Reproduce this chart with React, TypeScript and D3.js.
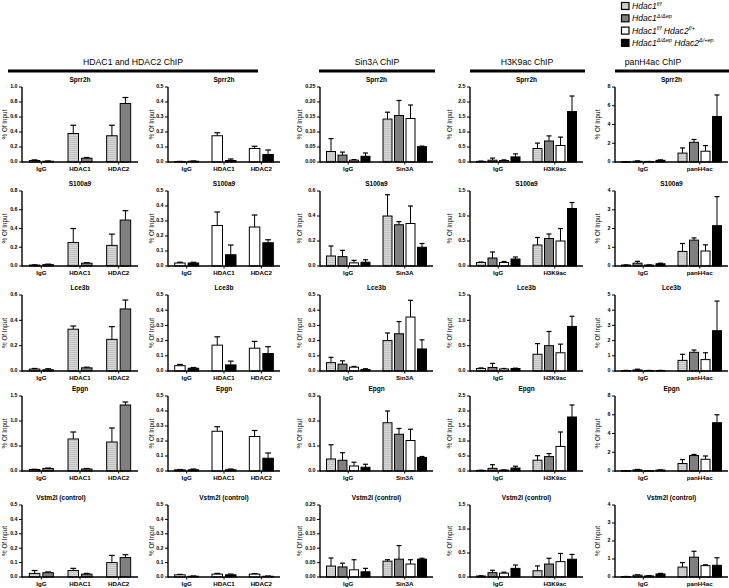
import React from "react";
import * as d3 from "d3";

// ---------- data ----------
const rowTitles = ["Sprr2h", "S100a9", "Lce3b", "Epgn", "Vstm2l (control)"];
const colHeaders = ["HDAC1 and HDAC2 ChIP", "Sin3A ChIP", "H3K9ac ChIP", "panH4ac ChIP"];

const hdacGroups = ["IgG", "HDAC1", "HDAC2"];
const sin3aGroups = ["IgG", "Sin3A"];
const h3k9Groups = ["IgG", "H3K9ac"];
const h4Groups = ["IgG", "panH4ac"];

// axis maxima and tick steps per row
const col1Max = [1.0, 0.8, 0.6, 1.5, 0.5];
const col1Step = [0.2, 0.2, 0.2, 0.5, 0.1];
const col2Max = [0.5, 0.5, 0.5, 0.5, 0.5];
const col2Step = [0.1, 0.1, 0.1, 0.1, 0.1];
const col3Max = [0.25, 0.6, 0.5, 0.3, 0.25];
const col3Step = [0.05, 0.2, 0.1, 0.1, 0.05];
const col4Max = [2.5, 1.5, 1.5, 2.5, 1.5];
const col4Step = [0.5, 0.5, 0.5, 0.5, 0.5];
const col5Max = [8, 4, 5, 8, 4];
const col5Step = [2, 1, 1, 2, 1];

// values: row -> group -> series ; errors likewise
const col1Means = [
  [[0.02, 0.01], [0.38, 0.05], [0.35, 0.78]],
  [[0.01, 0.015], [0.25, 0.03], [0.22, 0.49]],
  [[0.015, 0.01], [0.33, 0.025], [0.25, 0.49]],
  [[0.03, 0.05], [0.64, 0.04], [0.58, 1.32]],
  [[0.025, 0.03], [0.045, 0.02], [0.1, 0.135]],
];
const col1Errs = [
  [[0.008, 0.004], [0.11, 0.01], [0.14, 0.08]],
  [[0.002, 0.005], [0.15, 0.005], [0.12, 0.1]],
  [[0.005, 0.008], [0.025, 0.005], [0.1, 0.07]],
  [[0.005, 0.01], [0.14, 0.01], [0.28, 0.06]],
  [[0.02, 0.005], [0.015, 0.005], [0.05, 0.02]],
];
const col2Means = [
  [[0.003, 0.005], [0.175, 0.01], [0.09, 0.05]],
  [[0.02, 0.02], [0.27, 0.075], [0.26, 0.155]],
  [[0.035, 0.018], [0.17, 0.04], [0.15, 0.115]],
  [[0.008, 0.008], [0.265, 0.008], [0.23, 0.085]],
  [[0.015, 0.005], [0.02, 0.015], [0.02, 0.005]],
];
const col2Errs = [
  [[0.001, 0.002], [0.02, 0.01], [0.015, 0.03]],
  [[0.005, 0.005], [0.09, 0.065], [0.08, 0.02]],
  [[0.008, 0.005], [0.055, 0.025], [0.045, 0.045]],
  [[0.002, 0.005], [0.03, 0.005], [0.04, 0.035]],
  [[0.003, 0.002], [0.005, 0.005], [0.003, 0.002]],
];
const col3Means = [
  [[0.035, 0.023, 0.006, 0.019], [0.143, 0.155, 0.145, 0.051]],
  [[0.08, 0.075, 0.025, 0.03], [0.4, 0.33, 0.34, 0.15]],
  [[0.055, 0.045, 0.025, 0.01], [0.2, 0.245, 0.355, 0.145]],
  [[0.048, 0.043, 0.02, 0.015], [0.193, 0.147, 0.122, 0.054]],
  [[0.038, 0.035, 0.025, 0.018], [0.055, 0.062, 0.045, 0.062]],
];
const col3Errs = [
  [[0.043, 0.01, 0.002, 0.011], [0.023, 0.05, 0.045, 0.002]],
  [[0.08, 0.05, 0.02, 0.02], [0.17, 0.025, 0.14, 0.03]],
  [[0.035, 0.022, 0.005, 0.005], [0.05, 0.08, 0.11, 0.06]],
  [[0.057, 0.03, 0.015, 0.012], [0.047, 0.023, 0.045, 0.004]],
  [[0.028, 0.013, 0.035, 0.012], [0.005, 0.047, 0.015, 0.003]],
];
const col4Means = [
  [[0.02, 0.06, 0.05, 0.17], [0.45, 0.7, 0.55, 1.68]],
  [[0.07, 0.16, 0.07, 0.14], [0.42, 0.55, 0.5, 1.15]],
  [[0.05, 0.07, 0.04, 0.05], [0.33, 0.5, 0.36, 0.88]],
  [[0.02, 0.09, 0.03, 0.1], [0.36, 0.48, 0.82, 1.8]],
  [[0.02, 0.09, 0.08, 0.18], [0.13, 0.27, 0.32, 0.37]],
];
const col4Errs = [
  [[0.01, 0.07, 0.02, 0.1], [0.18, 0.17, 0.28, 0.52]],
  [[0.01, 0.12, 0.02, 0.04], [0.15, 0.09, 0.25, 0.12]],
  [[0.01, 0.08, 0.01, 0.005], [0.21, 0.28, 0.17, 0.2]],
  [[0.005, 0.12, 0.005, 0.06], [0.15, 0.1, 0.48, 0.4]],
  [[0.005, 0.05, 0.02, 0.07], [0.1, 0.12, 0.17, 0.1]],
];
const col5Means = [
  [[0.03, 0.08, 0.05, 0.18], [0.95, 2.1, 1.15, 4.85]],
  [[0.05, 0.15, 0.05, 0.12], [0.78, 1.38, 0.8, 2.15]],
  [[0.03, 0.07, 0.03, 0.03], [0.7, 1.23, 0.75, 2.65]],
  [[0.03, 0.12, 0.03, 0.1], [0.8, 1.65, 1.25, 5.15]],
  [[0.02, 0.1, 0.06, 0.17], [0.55, 1.1, 0.63, 0.65]],
];
const col5Errs = [
  [[0.01, 0.04, 0.01, 0.05], [0.55, 0.3, 0.6, 2.3]],
  [[0.01, 0.1, 0.01, 0.03], [0.42, 0.12, 0.33, 1.55]],
  [[0.01, 0.05, 0.01, 0.01], [0.4, 0.15, 0.45, 1.95]],
  [[0.01, 0.05, 0.01, 0.02], [0.42, 0.12, 0.35, 0.85]],
  [[0.01, 0.02, 0.02, 0.03], [0.25, 0.33, 0.05, 0.42]],
];

// legend labels: [base, superscript] pairs
const legendParts: [string, string][][] = [
  [["Hdac1", "f/f"]],
  [["Hdac1", "Δ/Δep"]],
  [["Hdac1", "f/f"], ["Hdac2", "f/+"]],
  [["Hdac1", "Δ/Δep"], ["Hdac2", "Δ/+ep"]],
];

// ---------- layout ----------
const W = 729;
const H = 588;
const FONT = "'Liberation Sans', Arial, Helvetica, sans-serif";
const rowTop = [87, 191, 295, 396, 505];
const rowBottom = [162, 266, 371, 471, 577];
const colX = [
  [22, 138],
  [168, 280],
  [320, 433],
  [470, 583],
  [615, 728],
];
const yLabelOffset = [-17, -16, -20, -20, -17];
const SERIES_FILL = ["url(#hatch)", "#808080", "#ffffff", "#000000"];

type PanelProps = {
  x0: number;
  x1: number;
  top: number;
  bottom: number;
  max: number;
  step: number;
  groups: string[];
  series: number[];
  means: number[][];
  errs: number[][];
  title: string;
  titleX?: number;
  yLabelDx: number;
};

function decimalsOf(step: number, max: number) {
  if (Number.isInteger(step) && Number.isInteger(max)) return 0;
  const s = String(step);
  const d = s.includes(".") ? s.split(".")[1].length : 0;
  return Math.max(1, d);
}

function Panel(p: PanelProps) {
  const y = d3.scaleLinear().domain([0, p.max]).range([p.bottom, p.top]);
  const x = d3.scaleBand<string>().domain(p.groups).range([p.x0, p.x1]).padding(0);
  const n = p.series.length;
  const barW = n === 2 ? 10.5 : 9;
  const pitch = n === 2 ? 13.5 : 11.5;
  const dec = decimalsOf(p.step, p.max);
  const fmt = d3.format(`.${dec}f`);
  const ticks = d3.range(0, p.max + p.step / 2, p.step);
  const cx = (p.x0 + p.x1) / 2;
  const midY = (p.top + p.bottom) / 2;
  return (
    <g>
      <text
        x={p.titleX ?? cx}
        y={p.top - 5}
        textAnchor="middle"
        fontSize={6.5}
        fontWeight="bold"
        fontFamily={FONT}
      >
        {p.title}
      </text>
      <text
        transform={`translate(${p.x0 + p.yLabelDx},${midY}) rotate(-90)`}
        textAnchor="middle"
        dominantBaseline="middle"
        fontSize={6.3}
        fontFamily={FONT}
      >
        % Of Input
      </text>
      {/* bars */}
      {p.groups.map((g, gi) => {
        const gc = (x(g) as number) + x.bandwidth() / 2;
        return p.series.map((s, si) => {
          const m = p.means[gi][si];
          const e = p.errs[gi][si];
          const bx = gc + (si - (n - 1) / 2) * pitch - barW / 2;
          const by = y(m);
          const ey = y(m + e);
          const capW = barW * 0.55;
          const bcx = bx + barW / 2;
          return (
            <g key={`${g}-${s}`}>
              <line x1={bcx} x2={bcx} y1={by} y2={ey} stroke="#000" strokeWidth={1} />
              <line x1={bcx - capW / 2} x2={bcx + capW / 2} y1={ey} y2={ey} stroke="#000" strokeWidth={1.2} />
              <rect
                x={bx}
                y={by}
                width={barW}
                height={Math.max(0.5, p.bottom - by)}
                fill={SERIES_FILL[s]}
                stroke="#000"
                strokeWidth={1}
              />
            </g>
          );
        });
      })}
      {/* y axis */}
      <line x1={p.x0} x2={p.x0} y1={p.bottom + 0.75} y2={p.top} stroke="#000" strokeWidth={1.4} />
      {ticks.map((t) => (
        <g key={t}>
          <line x1={p.x0 - 3} x2={p.x0} y1={y(t)} y2={y(t)} stroke="#000" strokeWidth={1} />
          <text
            x={p.x0 - 4.5}
            y={y(t)}
            textAnchor="end"
            dominantBaseline="middle"
            fontSize={5.3}
            fontWeight="bold"
            fontFamily={FONT}
          >
            {fmt(t)}
          </text>
        </g>
      ))}
      {/* x axis */}
      <line x1={p.x0} x2={p.x1} y1={p.bottom} y2={p.bottom} stroke="#000" strokeWidth={1.5} />
      {p.groups.map((g) => {
        const gc = (x(g) as number) + x.bandwidth() / 2;
        return (
          <g key={g}>
            <line x1={gc} x2={gc} y1={p.bottom} y2={p.bottom + 2.5} stroke="#000" strokeWidth={1} />
            <text
              x={gc}
              y={p.bottom + 9}
              textAnchor="middle"
              fontSize={6.2}
              fontWeight="bold"
              fontFamily={FONT}
            >
              {g}
            </text>
          </g>
        );
      })}
    </g>
  );
}

function LegendLabel({ parts }: { parts: [string, string][] }) {
  const out: React.ReactNode[] = [];
  parts.forEach(([base, sup], i) => {
    out.push(
      <tspan key={`b${i}`} dy={i > 0 ? 3.5 : 0}>
        {(i > 0 ? " " : "") + base}
      </tspan>
    );
    out.push(
      <tspan key={`s${i}`} fontSize={5.5} dy={-3.5}>
        {sup}
      </tspan>
    );
  });
  return <>{out}</>;
}

export default function App() {
  const cols = [
    { groups: hdacGroups, series: [0, 1], means: col1Means, errs: col1Errs, max: col1Max, step: col1Step },
    { groups: hdacGroups, series: [2, 3], means: col2Means, errs: col2Errs, max: col2Max, step: col2Step },
    { groups: sin3aGroups, series: [0, 1, 2, 3], means: col3Means, errs: col3Errs, max: col3Max, step: col3Step },
    { groups: h3k9Groups, series: [0, 1, 2, 3], means: col4Means, errs: col4Errs, max: col4Max, step: col4Step },
    { groups: h4Groups, series: [0, 1, 2, 3], means: col5Means, errs: col5Errs, max: col5Max, step: col5Step },
  ];
  const headerSpans = [
    { x1: 8, x2: 258, tx: 133 },
    { x1: 319, x2: 435, tx: 377 },
    { x1: 470, x2: 585, tx: 527 },
    { x1: 615, x2: 729, tx: 653 },
  ];
  return (
    <svg
      width={W}
      height={H}
      viewBox={`0 0 ${W} ${H}`}
      style={{ position: "absolute", left: 0, top: 0, background: "#fff" }}
    >
      <defs>
        <pattern id="hatch" patternUnits="userSpaceOnUse" x={0} y={0} width={20} height={2}>
          <rect x={0} y={0} width={20} height={2} fill="#d8d8d8" />
          <rect x={0} y={0} width={20} height={0.7} fill="#b8b8b8" />
        </pattern>
      </defs>
      <rect width={W} height={H} fill="#fff" />
      {/* legend */}
      {legendParts.map((parts, i) => {
        const cy = 6 + i * 12.3;
        return (
          <g key={i}>
            <rect x={621.5} y={cy - 3.5} width={7.5} height={7} fill={SERIES_FILL[i]} stroke="#000" strokeWidth={1.2} />
            <text x={632} y={cy + 3} fontSize={8.6} fontStyle="italic" fontFamily={FONT}>
              <LegendLabel parts={parts} />
            </text>
          </g>
        );
      })}
      {/* headers */}
      {headerSpans.map((h, i) => (
        <g key={i}>
          <text x={h.tx} y={65} textAnchor="middle" fontSize={8.7} fontFamily={FONT}>
            {colHeaders[i]}
          </text>
          <line x1={h.x1} x2={h.x2} y1={71} y2={71} stroke="#000" strokeWidth={3} />
        </g>
      ))}
      {/* panels */}
      {rowTitles.map((title, r) =>
        cols.map((c, ci) => (
          <Panel
            key={`${r}-${ci}`}
            x0={colX[ci][0]}
            x1={colX[ci][1]}
            top={rowTop[r]}
            bottom={rowBottom[r]}
            max={c.max[r]}
            step={c.step[r]}
            groups={c.groups}
            series={c.series}
            means={c.means[r]}
            errs={c.errs[r]}
            title={title}
            titleX={r === 4 && ci === 0 ? 61 : undefined}
            yLabelDx={yLabelOffset[ci]}
          />
        ))
      )}
    </svg>
  );
}
